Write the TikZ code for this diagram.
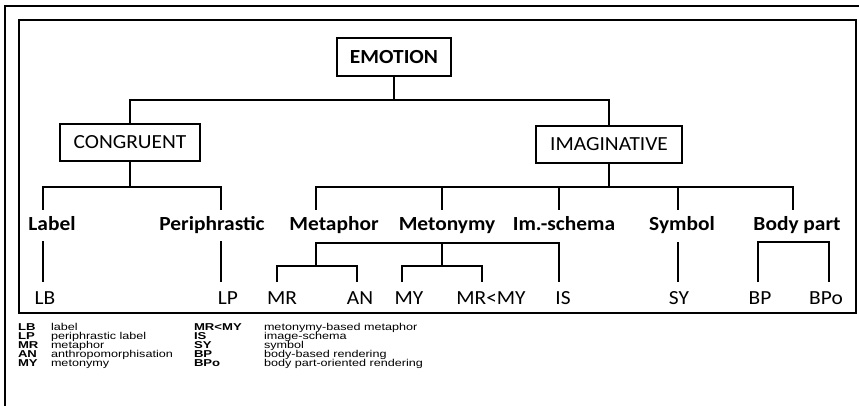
\documentclass[tikz,border=0pt]{standalone}
\usepackage{fontspec}
\usepackage{graphicx}
\newfontfamily\calf{Carlito}
\newfontfamily\legf{Liberation Sans}
\newcommand{\wideab}[1]{\scalebox{1.25}[0.95]{#1}}
\newcommand{\widedf}[1]{\scalebox{1.2}[0.95]{#1}}
\newcommand{\widecal}[1]{\scalebox{1.07}[1]{#1}}
\begin{document}
\begin{tikzpicture}[x=1pt,y=-1pt,line width=2pt,
  box/.style={draw,line width=2pt,inner sep=0pt,font=\calf\fontsize{20}{24}\selectfont},
  cat/.style={font=\calf\bfseries\fontsize{20}{24}\selectfont,anchor=base,inner sep=0pt},
  code/.style={font=\calf\fontsize{20}{24}\selectfont,anchor=base,inner sep=0pt},
  ab/.style={font=\legf\bfseries\fontsize{10.5}{12}\selectfont,anchor=base west,inner sep=0pt,text height=7pt,text depth=1.5pt},
  df/.style={font=\legf\fontsize{10.5}{12}\selectfont,anchor=base west,inner sep=0pt,text height=7pt,text depth=1.5pt}]
\useasboundingbox (0,0) rectangle (859,406);
\fill[white] (0,0) rectangle (859,406);
% frames
\draw[line width=2.5pt] (859,6) -- (5,6) -- (5,406);
\draw (19,20) rectangle (856,313);
% boxes
\node[box,minimum width=114pt,minimum height=38pt,font=\calf\bfseries\fontsize{20}{24}\selectfont] (emo) at (394,57) {\widecal{EMOTION}};
\node[box,minimum width=140pt,minimum height=37pt] (cong) at (130,142.5) {\widecal{CONGRUENT}};
\node[box,minimum width=146pt,minimum height=37pt] (imag) at (609,144.5) {\widecal{IMAGINATIVE}};
% categories
\node[cat] (label) at (52,230) {\widecal{Label}};
\node[cat] (peri) at (212,230) {\widecal{Periphrastic}};
\node[cat] (meta) at (334,230) {\widecal{Metaphor}};
\node[cat] (meto) at (447,230) {\widecal{Metonymy}};
\node[cat] (ims) at (564,230) {\widecal{Im.-schema}};
\node[cat] (sym) at (682,230) {\widecal{Symbol}};
\node[cat] (body) at (797,230) {\widecal{Body part}};
% codes
\node[code] (LB) at (45,304) {\widecal{LB}};
\node[code] (LP) at (228,304) {\widecal{LP}};
\node[code] (MR) at (282,304) {\widecal{MR}};
\node[code] (AN) at (360,304) {\widecal{AN}};
\node[code] (MY) at (409,304) {\widecal{MY}};
\node[code] (MRMY) at (491,304) {\widecal{MR<MY}};
\node[code] (IS) at (563,304) {\widecal{IS}};
\node[code] (SY) at (679,304) {\widecal{SY}};
\node[code] (BP) at (760,304) {\widecal{BP}};
\node[code] (BPo) at (826,304) {\widecal{BPo}};
% coordinates
\coordinate (bus1) at (0,100);
\coordinate (bus2) at (0,187);
\coordinate (h3) at (0,243);
\coordinate (hm) at (0,266);
\coordinate (hb) at (0,242);
\coordinate (tlab) at (43,210);
\coordinate (tperi) at (221,210);
\coordinate (tmeta) at (316,210);
\coordinate (tmeto) at (442,210);
\coordinate (tims) at (559,210);
\coordinate (tsym) at (678,210);
\coordinate (tbody) at (793,210);
\coordinate (uLB) at (43,241);
\coordinate (dLB) at (43,282);
\coordinate (uLP) at (221,241);
\coordinate (dLP) at (221,282);
\coordinate (dMR) at (277,282);
\coordinate (dAN) at (357,282);
\coordinate (dMY) at (402,282);
\coordinate (dMRMY) at (482,282);
\coordinate (dIS) at (559,282);
\coordinate (sMe) at (316,266);
\coordinate (sMo) at (442,266);
\coordinate (uSY) at (678,242);
\coordinate (dSY) at (678,282);
\coordinate (dBP) at (758,282);
\coordinate (dBPo) at (829,282);
% level 1
\draw (emo.south) -- (emo.south |- bus1);
\draw (cong.north) -- (cong.north |- bus1) -- (imag.north |- bus1) -- (imag.north);
% level 2
\draw (cong.south) -- (cong.south |- bus2);
\draw (tlab) -- (tlab |- bus2) -- (tperi |- bus2) -- (tperi);
\draw (imag.south) -- (imag.south |- bus2);
\draw (tmeta) -- (tmeta |- bus2) -- (tbody |- bus2) -- (tbody);
\draw (tmeto) -- (tmeto |- bus2);
\draw (tims) -- (tims |- bus2);
\draw (tsym) -- (tsym |- bus2);
% level 3
\draw (uLB) -- (dLB);
\draw (uLP) -- (dLP);
\draw (dMR) -- (dMR |- hm) -- (dAN |- hm) -- (dAN);
\draw (dMY) -- (dMY |- hm) -- (dMRMY |- hm) -- (dMRMY);
\draw (sMe) -- (sMe |- h3) -- (dIS |- h3) -- (dIS);
\draw (sMo) -- (sMo |- h3);
\draw (uSY) -- (dSY);
\draw (dBP) -- (dBP |- hb) -- (dBPo |- hb) -- (dBPo);
% legend
\node[ab] (a1) at (17,330) {\wideab{LB}};
\node[ab] (a2) at (17,339.2) {\wideab{LP}};
\node[ab] (a3) at (17,348.4) {\wideab{MR}};
\node[ab] (a4) at (17,357.6) {\wideab{AN}};
\node[ab] (a5) at (17,366.8) {\wideab{MY}};
\node[df] (d1) at (50,330) {\widedf{label}};
\node[df] (d2) at (50,339.2) {\widedf{periphrastic label}};
\node[df] (d3) at (50,348.4) {\widedf{metaphor}};
\node[df] (d4) at (50,357.6) {\widedf{anthropomorphisation}};
\node[df] (d5) at (50,366.8) {\widedf{metonymy}};
\node[ab] (a6) at (193,330) {\wideab{MR<MY}};
\node[ab] (a7) at (193,339.2) {\wideab{IS}};
\node[ab] (a8) at (193,348.4) {\wideab{SY}};
\node[ab] (a9) at (193,357.6) {\wideab{BP}};
\node[ab] (a10) at (193,366.8) {\wideab{BPo}};
\node[df] (d6) at (263,330) {\widedf{metonymy-based metaphor}};
\node[df] (d7) at (263,339.2) {\widedf{image-schema}};
\node[df] (d8) at (263,348.4) {\widedf{symbol}};
\node[df] (d9) at (263,357.6) {\widedf{body-based rendering}};
\node[df] (d10) at (263,366.8) {\widedf{body part-oriented rendering}};
\end{tikzpicture}
\end{document}
